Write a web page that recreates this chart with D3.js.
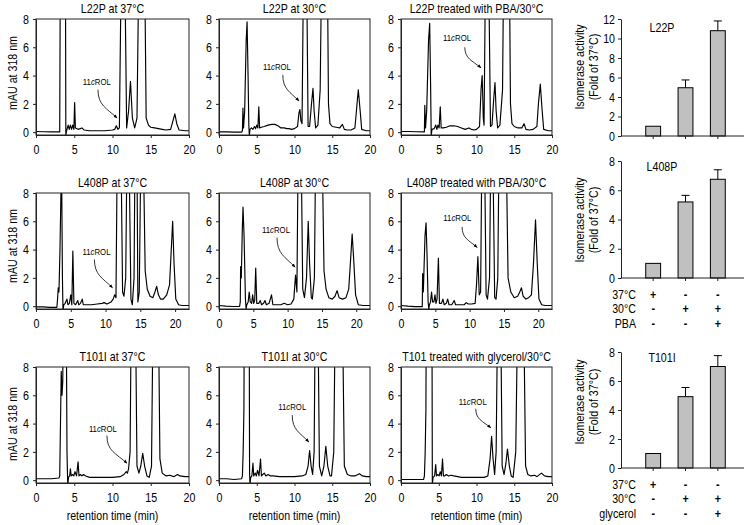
<!DOCTYPE html>
<html><head><meta charset="utf-8">
<script src="https://cdn.jsdelivr.net/npm/d3@7"></script>
<style>
body{margin:0;background:#fff;}
svg text{fill:#000;}
</style></head><body>
<svg id="c" width="745" height="525"></svg>
<script>
// ---------------- DATA ----------------
// chromatogram traces: [retention time (min), mAU]; values above 8 are off-scale peaks
const traceL22P37 = [[0,0.05],[1,0.03],[2,0.02],[3.1,0.02],[3.18,12],[3.85,12],[3.9,-0.2],[4.0,0.1],[4.2,0.5],[4.35,0.2],[4.5,0.5],[4.65,0.2],[4.8,0.5],[4.95,0.2],[5.05,2.1],[5.15,0.3],[5.5,0.2],[6,0.3],[6.3,0.15],[7,0.1],[8,0.1],[9,0.1],[10,0.15],[10.3,0.2],[10.5,0.45],[10.7,0.2],[10.9,0.3],[11.15,12],[11.6,12],[11.85,0.3],[12.1,1.5],[12.35,3.6],[12.6,1.0],[12.9,0.3],[13.2,1],[13.45,12],[14.2,12],[14.4,1],[14.7,0.5],[15,0.35],[15.5,0.3],[16,0.25],[16.5,0.2],[17,0.15],[17.6,0.2],[17.9,0.8],[18.15,1.3],[18.4,0.6],[18.7,0.15],[19.5,0.1],[20,0.1]];
const traceL22P30 = [[0,0.02],[1,0.02],[2,0.0],[3.0,0.0],[3.1,0.1],[3.17,1.7],[3.25,0.3],[3.4,1.5],[3.6,6.5],[3.72,7.8],[3.85,4],[3.95,0.5],[4.02,-0.25],[4.1,0.2],[4.3,0.3],[4.5,0.2],[4.7,0.4],[4.85,0.25],[5.0,0.5],[5.15,0.3],[5.27,1.8],[5.38,0.3],[5.6,0.35],[6,0.4],[6.5,0.5],[7,0.55],[7.4,0.55],[7.8,0.45],[8.2,0.3],[8.6,0.3],[9,0.25],[9.3,0.25],[9.6,0.2],[10,0.25],[10.4,0.4],[10.6,1.4],[10.72,1.6],[10.85,0.8],[11.0,0.6],[11.2,12],[11.6,12],[11.8,0.4],[12.0,0.4],[12.25,2.0],[12.45,3.1],[12.6,1.5],[12.8,0.3],[13.1,0.5],[13.4,3],[13.6,12],[14.35,12],[14.5,2],[14.7,0.6],[15,0.4],[15.5,0.35],[16,0.3],[16.35,0.55],[16.6,0.2],[17,0.15],[17.5,0.15],[18,0.3],[18.2,1.5],[18.45,3.0],[18.7,1.5],[18.9,0.2],[19.5,0.1],[20,0.1]];
const traceL22PPBA = [[0,0.05],[1,0.05],[2,0.03],[3.1,0.02],[3.15,1.9],[3.25,0.3],[3.4,1.5],[3.65,6.5],[3.8,7.7],[3.93,3],[4.0,-0.25],[4.1,0.2],[4.4,0.25],[4.6,0.5],[4.75,0.2],[4.9,0.5],[5.05,0.3],[5.2,1.8],[5.32,0.3],[5.6,0.3],[6,0.35],[6.5,0.45],[7,0.45],[7.5,0.4],[8,0.3],[8.5,0.2],[9,0.3],[9.3,0.2],[9.7,0.15],[10,0.2],[10.4,0.4],[10.6,3],[10.75,4.0],[10.9,1.0],[11.0,0.5],[11.2,12],[11.6,12],[11.85,0.4],[12.05,0.5],[12.3,2.5],[12.45,3.5],[12.6,1.5],[12.8,0.3],[13.1,0.5],[13.45,3],[13.6,12],[14.35,12],[14.5,2],[14.7,0.6],[15,0.4],[15.5,0.3],[16,0.3],[16.3,0.6],[16.55,0.2],[17,0.15],[17.5,0.2],[18,0.4],[18.2,2],[18.45,3.4],[18.7,1.5],[18.9,0.2],[19.5,0.1],[20,0.1]];
const traceL408P37 = [[0,-0.05],[1,-0.05],[2,-0.08],[3.0,-0.08],[3.1,0.5],[3.2,1.3],[3.3,1.0],[3.45,4],[3.6,8.5],[3.7,8.5],[3.8,2],[3.88,-0.3],[4.0,0.1],[4.2,0.2],[4.45,0.5],[4.6,0.1],[4.8,0.2],[5.0,0.8],[5.15,0.1],[5.3,3.9],[5.45,0.2],[5.7,0.1],[6.0,0.4],[6.15,0.1],[6.4,0.2],[6.65,0.5],[6.8,0.1],[7.2,0.1],[8,0.1],[8.8,0.15],[9.5,0.2],[9.8,0.25],[10.2,0.15],[10.8,0.3],[11.1,0.5],[11.3,0.8],[11.5,0.6],[11.7,12],[12.2,12],[12.45,1.0],[12.65,0.7],[12.9,2],[13.1,12],[13.35,12],[13.65,0.5],[13.85,0.1],[14.1,2],[14.25,12],[14.5,12],[14.65,0.3],[14.85,1],[15.1,12],[15.4,12],[15.7,2.5],[16,1.2],[16.4,0.7],[16.8,0.6],[17.1,1.0],[17.35,1.4],[17.6,0.8],[17.9,0.5],[18.3,0.5],[18.8,0.8],[19.2,1.5],[19.45,4],[19.65,6.0],[19.85,3],[20.1,0.5],[20.5,0.1],[21,0.05],[22,0.05]];
const traceL408P30 = [[0,0.05],[1,0.0],[2,-0.02],[3.0,-0.02],[3.1,0.3],[3.15,2.8],[3.25,2.0],[3.4,5.5],[3.5,7.0],[3.65,5],[3.85,0.5],[3.95,-0.2],[4.05,0.1],[4.25,0.3],[4.4,1.0],[4.55,0.3],[4.75,0.2],[4.9,0.8],[5.05,0.2],[5.2,0.4],[5.35,2.7],[5.5,0.2],[5.8,0.2],[6.0,0.4],[6.2,0.1],[6.5,0.2],[6.7,0.4],[6.9,0.1],[7.3,0.2],[7.65,0.8],[7.85,0.1],[8.3,0.1],[9,0.1],[9.5,0.2],[10,0.1],[10.5,0.15],[10.9,0.5],[11.15,2.2],[11.35,1.0],[11.55,12],[11.95,12],[12.2,1.2],[12.45,0.6],[12.75,2],[13.0,6.0],[13.2,3],[13.45,0.6],[13.6,0.5],[13.9,2],[14.1,12],[15.0,12],[15.3,2.5],[15.6,1.2],[16,0.6],[16.5,0.5],[16.9,0.7],[17.2,1.1],[17.5,0.6],[18,0.5],[18.5,0.6],[18.9,1.2],[19.2,3.5],[19.4,5.1],[19.6,3.5],[19.9,0.8],[20.3,0.1],[21,0.05],[22,0.05]];
const traceL408PPBA = [[0,0.05],[1,0.0],[2,-0.03],[3.1,-0.03],[3.15,2.3],[3.25,1.0],[3.5,5],[3.65,5.9],[3.8,3.5],[3.95,0.3],[4.05,-0.2],[4.15,0.1],[4.3,0.3],[4.45,1.0],[4.6,0.3],[4.8,0.3],[4.95,0.8],[5.1,0.2],[5.25,0.5],[5.45,3.4],[5.6,0.2],[5.9,0.2],[6.1,0.5],[6.3,0.1],[6.6,0.2],[6.8,0.5],[7.0,0.1],[7.4,0.1],[7.75,0.4],[7.95,0.1],[8.5,0.1],[9.2,0.1],[9.5,0.25],[9.8,0.15],[10.3,0.15],[10.8,0.2],[11.0,1.5],[11.2,3.5],[11.4,0.8],[11.6,1.0],[11.8,12],[12.15,12],[12.4,0.8],[12.6,0.5],[12.9,2],[13.1,12],[13.35,12],[13.65,0.6],[13.85,0.5],[14.1,2],[14.3,12],[15.3,12],[15.6,2],[16,1.0],[16.5,0.6],[17,0.7],[17.3,1.0],[17.55,1.3],[17.8,0.7],[18.2,0.5],[18.6,0.6],[19.0,0.8],[19.3,3],[19.6,6.1],[19.85,3],[20.1,0.5],[20.5,0.1],[21,0.05],[22,0.05]];
const traceT101I37 = [[0,0.1],[1,0.1],[2,0.1],[3.0,0.15],[3.1,0.3],[3.2,4],[3.3,7.7],[3.4,6.0],[3.5,7.0],[3.55,12],[3.95,12],[4.05,2],[4.15,-0.35],[4.25,0.2],[4.4,0.3],[4.5,0.8],[4.6,0.3],[4.8,0.4],[4.95,0.3],[5.1,0.6],[5.3,0.3],[5.5,1.3],[5.62,0.3],[5.8,0.4],[6.0,0.3],[6.2,0.4],[6.5,0.3],[7,0.2],[8,0.2],[9,0.2],[10,0.2],[11,0.25],[11.5,0.4],[11.8,0.6],[11.95,0.5],[12.1,0.8],[12.3,2],[12.45,12],[13.0,12],[13.2,1],[13.45,0.5],[13.7,1],[13.95,1.9],[14.2,1.0],[14.5,0.3],[14.8,0.2],[15.1,1],[15.3,12],[16.0,12],[16.2,1.5],[16.5,0.5],[17,0.3],[17.5,0.35],[18,0.25],[18.5,0.4],[18.8,0.3],[19.5,0.25],[20,0.25]];
const traceT101I30 = [[0,0.1],[1,0.1],[2,0.05],[3.0,0.1],[3.1,0.3],[3.2,2.0],[3.3,5],[3.35,12],[4.0,12],[4.05,0.5],[4.1,-0.3],[4.2,0.2],[4.35,0.3],[4.5,1.2],[4.6,0.3],[4.8,0.5],[4.95,0.3],[5.1,0.7],[5.3,0.3],[5.5,1.5],[5.62,0.3],[5.8,0.4],[6.0,0.5],[6.2,0.3],[6.5,0.4],[6.8,0.3],[7.2,0.3],[8,0.25],[9,0.25],[10,0.25],[11,0.3],[11.5,0.4],[11.8,1.0],[12.0,2.1],[12.2,1.0],[12.4,0.4],[12.6,2],[12.75,12],[13.1,12],[13.3,1],[13.6,0.3],[13.9,1.0],[14.15,2.4],[14.4,1.0],[14.7,0.3],[14.9,0.3],[15.2,2],[15.4,12],[16.35,12],[16.6,1],[17,0.4],[17.5,0.3],[18,0.3],[18.6,0.45],[19,0.3],[19.5,0.25],[20,0.25]];
const traceT101Gly = [[0,0.05],[1,0.05],[2,0.05],[3.0,0.05],[3.1,0.3],[3.2,1.9],[3.3,5],[3.35,12],[4.1,12],[4.15,-0.3],[4.25,0.2],[4.45,0.3],[4.6,1.1],[4.7,0.3],[4.9,0.4],[5.05,0.3],[5.2,0.6],[5.35,0.3],[5.5,1.5],[5.62,0.3],[5.8,0.3],[6.0,0.4],[6.3,0.3],[6.6,0.35],[7,0.3],[8,0.2],[9,0.2],[10,0.2],[11,0.2],[11.5,0.3],[11.8,1.5],[12.0,3.1],[12.2,1.5],[12.4,0.4],[12.6,2],[12.8,12],[13.2,12],[13.4,1],[13.65,0.4],[13.9,1.2],[14.1,2.2],[14.35,1.0],[14.6,0.3],[14.85,0.2],[15.2,2],[15.45,12],[16.25,12],[16.5,1],[16.8,0.4],[17.2,0.3],[17.7,0.35],[18,0.25],[18.6,0.5],[19,0.3],[19.5,0.25],[20,0.25]];

// 11cROL annotations: [label pos, arrow start, arrow end] in (min, mAU)
const annL22P37 = [[7.95,3.6],[8.1,3.0],[10.6,1.0]];
const annL22P30 = [[7.67,4.6],[8.45,4.05],[10.6,2.2]];
const annL22PPBA = [[7.42,6.65],[8.45,6.0],[10.6,4.55]];
const annL408P37 = [[8.7,3.85],[8.4,3.3],[11.0,1.3]];
const annL408P30 = [[8.3,5.4],[8.45,4.85],[11.1,2.75]];
const annL408PPBA = [[8.2,6.25],[8.9,5.6],[11.1,4.15]];
const annT101I37 = [[8.74,3.65],[9.27,3.15],[11.9,1.2]];
const annT101I30 = [[9.7,5.2],[9.7,4.6],[11.9,2.7]];
const annT101Gly = [[9.5,5.55],[9.9,5.05],[11.9,3.7]];

const chromTitles = [
  ["L22P at 37\u00B0C","L22P at 30\u00B0C","L22P treated with PBA/30\u00B0C"],
  ["L408P at 37\u00B0C","L408P at 30\u00B0C","L408P treated with PBA/30\u00B0C"],
  ["T101I at 37\u00B0C","T101I at 30\u00B0C","T101 treated with glycerol/30\u00B0C"]
];
const chromYTicks = [0,2,4,6,8];
const chromXTicks = [0,5,10,15,20];
const chromXMax = [20,22,20];

// isomerase activity bar charts (fold of 37°C)
const barCategories = ["37\u00B0C","30\u00B0C","30\u00B0C + chaperone"];
const barTitles = ["L22P","L408P","T101I"];
const activityL22P = [1, 4.95, 10.8];
const errorL22P = [0, 0.8, 1.0];
const activityL408P = [1, 5.2, 6.75];
const errorL408P = [0, 0.45, 0.65];
const activityT101I = [1, 4.92, 7.0];
const errorT101I = [0, 0.63, 0.75];
const barYMax = [12, 8, 8];
const cond37 = ["+","-","-"];
const cond30 = ["-","+","+"];
const condChaperone = ["-","-","+"];
const condRowLabels = [null, ["37\u00B0C","30\u00B0C","PBA"], ["37\u00B0C","30\u00B0C","glycerol"]];

// ---------------- LAYOUT ----------------
const FONT = "'Liberation Sans','Arial',sans-serif";
const NARROW = 0.82;
const FS = 13;
const rowGeom = [{t:19,b:135},{t:193,b:309},{t:367,b:483}];
const colGeom = [{l:36,r:189},{l:219,r:370},{l:401,r:552}];
const traces = [[traceL22P37,traceL22P30,traceL22PPBA],[traceL408P37,traceL408P30,traceL408PPBA],[traceT101I37,traceT101I30,traceT101Gly]];
const anns = [[annL22P37,annL22P30,annL22PPBA],[annL408P37,annL408P30,annL408PPBA],[annT101I37,annT101I30,annT101Gly]];
const yLabelCY = [73,246,424];

const svg = d3.select("#c").attr("font-family",FONT);
const defs = svg.append("defs");
defs.append("marker").attr("id","ah").attr("viewBox","0 0 10 10").attr("refX",9).attr("refY",5)
  .attr("markerWidth",5).attr("markerHeight",5).attr("orient","auto")
  .append("path").attr("d","M0,1L10,5L0,9Z").attr("fill","#000");

function styleAxis(g){
  g.attr("font-family",FONT).attr("font-size",FS);
  g.selectAll("path.domain").attr("stroke","#222");
  g.selectAll(".tick line").attr("stroke","#222");
}

rowGeom.forEach((rg,ri)=>{
  colGeom.forEach((cg,ci)=>{
    const x = d3.scaleLinear().domain([0,chromXMax[ri]]).range([cg.l,cg.r]);
    const y = d3.scaleLinear().domain([-0.2,8]).range([rg.b,rg.t]);
    const id = `clip${ri}${ci}`;
    defs.append("clipPath").attr("id",id).append("rect")
      .attr("x",cg.l).attr("y",rg.t).attr("width",cg.r-cg.l).attr("height",rg.b-rg.t);
    const g = svg.append("g");
    g.append("path").datum(traces[ri][ci]).attr("clip-path",`url(#${id})`)
      .attr("fill","none").attr("stroke","#000").attr("stroke-width",1.15).attr("stroke-linejoin","round")
      .attr("d",d3.line().x(d=>x(d[0])).y(d=>y(d[1])));
    g.append("rect").attr("x",cg.l).attr("y",rg.t).attr("width",cg.r-cg.l).attr("height",rg.b-rg.t)
      .attr("fill","none").attr("stroke","#222").attr("stroke-width",1);
    g.append("g").attr("transform",`translate(${cg.l},0)`)
      .call(d3.axisLeft(y).tickValues(chromYTicks).tickSize(3).tickSizeOuter(0).tickPadding(4)).call(styleAxis);
    g.append("g").attr("transform",`translate(0,${rg.b})`)
      .call(d3.axisBottom(x).tickValues(chromXTicks).tickSize(3).tickSizeOuter(0).tickPadding(7)).call(styleAxis);
    // title
    g.append("text").attr("x",(cg.l+cg.r)/2).attr("y",rg.t-6).attr("text-anchor","middle")
      .attr("font-size",FS).text(chromTitles[ri][ci]);
    // annotation
    const a = anns[ri][ci];
    const lab = g.append("text").attr("x",x(a[0][0])).attr("y",y(a[0][1])).attr("dy","0.35em")
      .attr("text-anchor","middle").attr("font-size",9.5);
    lab.append("tspan").text("11");
    lab.append("tspan").attr("font-style","italic").text("c");
    lab.append("tspan").text("ROL");
    const sx=x(a[1][0]), sy=y(a[1][1]), ex=x(a[2][0]), ey=y(a[2][1]);
    g.append("path").attr("fill","none").attr("stroke","#000").attr("stroke-width",0.8)
      .attr("marker-end","url(#ah)")
      .attr("d",`M${sx},${sy}C${sx},${sy+(ey-sy)*0.55} ${ex-(ex-sx)*0.55},${ey-(ey-sy)*0.35} ${ex},${ey}`);
    if(ci===0){
      svg.append("text").attr("transform",`translate(12,${yLabelCY[ri]}) rotate(-90)`)
        .attr("text-anchor","middle").attr("dy","0.35em").attr("font-size",FS).text("mAU at 318 nm");
    }
    if(ri===2){
      svg.append("text").attr("x",(cg.l+cg.r)/2).attr("y",515).attr("dy","0.35em").attr("text-anchor","middle")
        .attr("font-size",FS).text("retention time (min)");
    }
  });
});

// ---------------- BAR CHARTS ----------------
const barGeom = [{t:19,b:136},{t:161,b:278},{t:352,b:468}];
const barVals = [activityL22P,activityL408P,activityT101I];
const barErrs = [errorL22P,errorL408P,errorT101I];
const barTitleCY = [27,166,357];
const barYLabCY = [67,220,402];
const AX = 621, AXR = 744;
barGeom.forEach((bg,bi)=>{
  const x = d3.scaleBand().domain(barCategories).range([637,734]).paddingInner(0.54).paddingOuter(0.27);
  const y = d3.scaleLinear().domain([0,barYMax[bi]]).range([bg.b,bg.t]);
  const g = svg.append("g");
  const vals = barVals[bi], errs = barErrs[bi];
  barCategories.forEach((c,i)=>{
    const cx = x(c)+x.bandwidth()/2;
    if(errs[i]>0){
      g.append("line").attr("x1",cx).attr("x2",cx).attr("y1",y(vals[i])).attr("y2",y(vals[i]+errs[i])).attr("stroke","#000");
      g.append("line").attr("x1",cx-4).attr("x2",cx+4).attr("y1",y(vals[i]+errs[i])).attr("y2",y(vals[i]+errs[i])).attr("stroke","#000");
    }
    g.append("rect").attr("x",x(c)).attr("width",x.bandwidth()).attr("y",y(vals[i])).attr("height",y(0)-y(vals[i]))
      .attr("fill","#c0c0c0").attr("stroke","#000").attr("stroke-width",1);
    g.append("line").attr("x1",cx).attr("x2",cx).attr("y1",bg.b).attr("y2",bg.b+3).attr("stroke","#222");
  });
  g.append("line").attr("x1",AX).attr("x2",AXR).attr("y1",bg.b).attr("y2",bg.b).attr("stroke","#222");
  g.append("g").attr("transform",`translate(${AX},0)`)
    .call(d3.axisLeft(y).ticks(barYMax[bi]/2).tickSize(3).tickSizeOuter(0).tickPadding(3)).call(styleAxis);
  g.append("text").attr("x",662).attr("y",barTitleCY[bi]).attr("dy","0.35em").attr("text-anchor","middle")
    .attr("font-size",FS).text(barTitles[bi]);
  const yl = g.append("text").attr("transform",`translate(580,${barYLabCY[bi]}) rotate(-90)`)
    .attr("text-anchor","middle").attr("font-size",FS);
  yl.append("tspan").attr("x",0).attr("dy","0.3em").text("Isomerase activity");
  yl.append("tspan").attr("x",0).attr("dy","1.1em").text("(Fold of 37\u00B0C)");
  const rows = condRowLabels[bi];
  if(rows){
    [cond37,cond30,condChaperone].forEach((cond,ri)=>{
      const cy = bg.b + 16 + ri*14.5;
      g.append("text").attr("x",636).attr("y",cy).attr("dy","0.35em").attr("text-anchor","end")
        .attr("font-size",FS).text(rows[ri]);
      barCategories.forEach((c,i)=>{
        g.append("text").attr("x",x(c)+x.bandwidth()/2).attr("y",cy).attr("dy","0.35em")
          .attr("text-anchor","middle").attr("font-size",FS).attr("font-weight","bold").text(cond[i]);
      });
    });
  }
});

// condense all text horizontally (reference uses a narrow sans face)
svg.selectAll("text").each(function(){
  const t = this.getAttribute("transform")||"";
  const x = +(this.getAttribute("x")||0), y = +(this.getAttribute("y")||0);
  this.setAttribute("transform", `${t} translate(${x},${y}) scale(${NARROW},1)`);
  this.setAttribute("x",0); this.setAttribute("y",0);
});
</script>
</body></html>
